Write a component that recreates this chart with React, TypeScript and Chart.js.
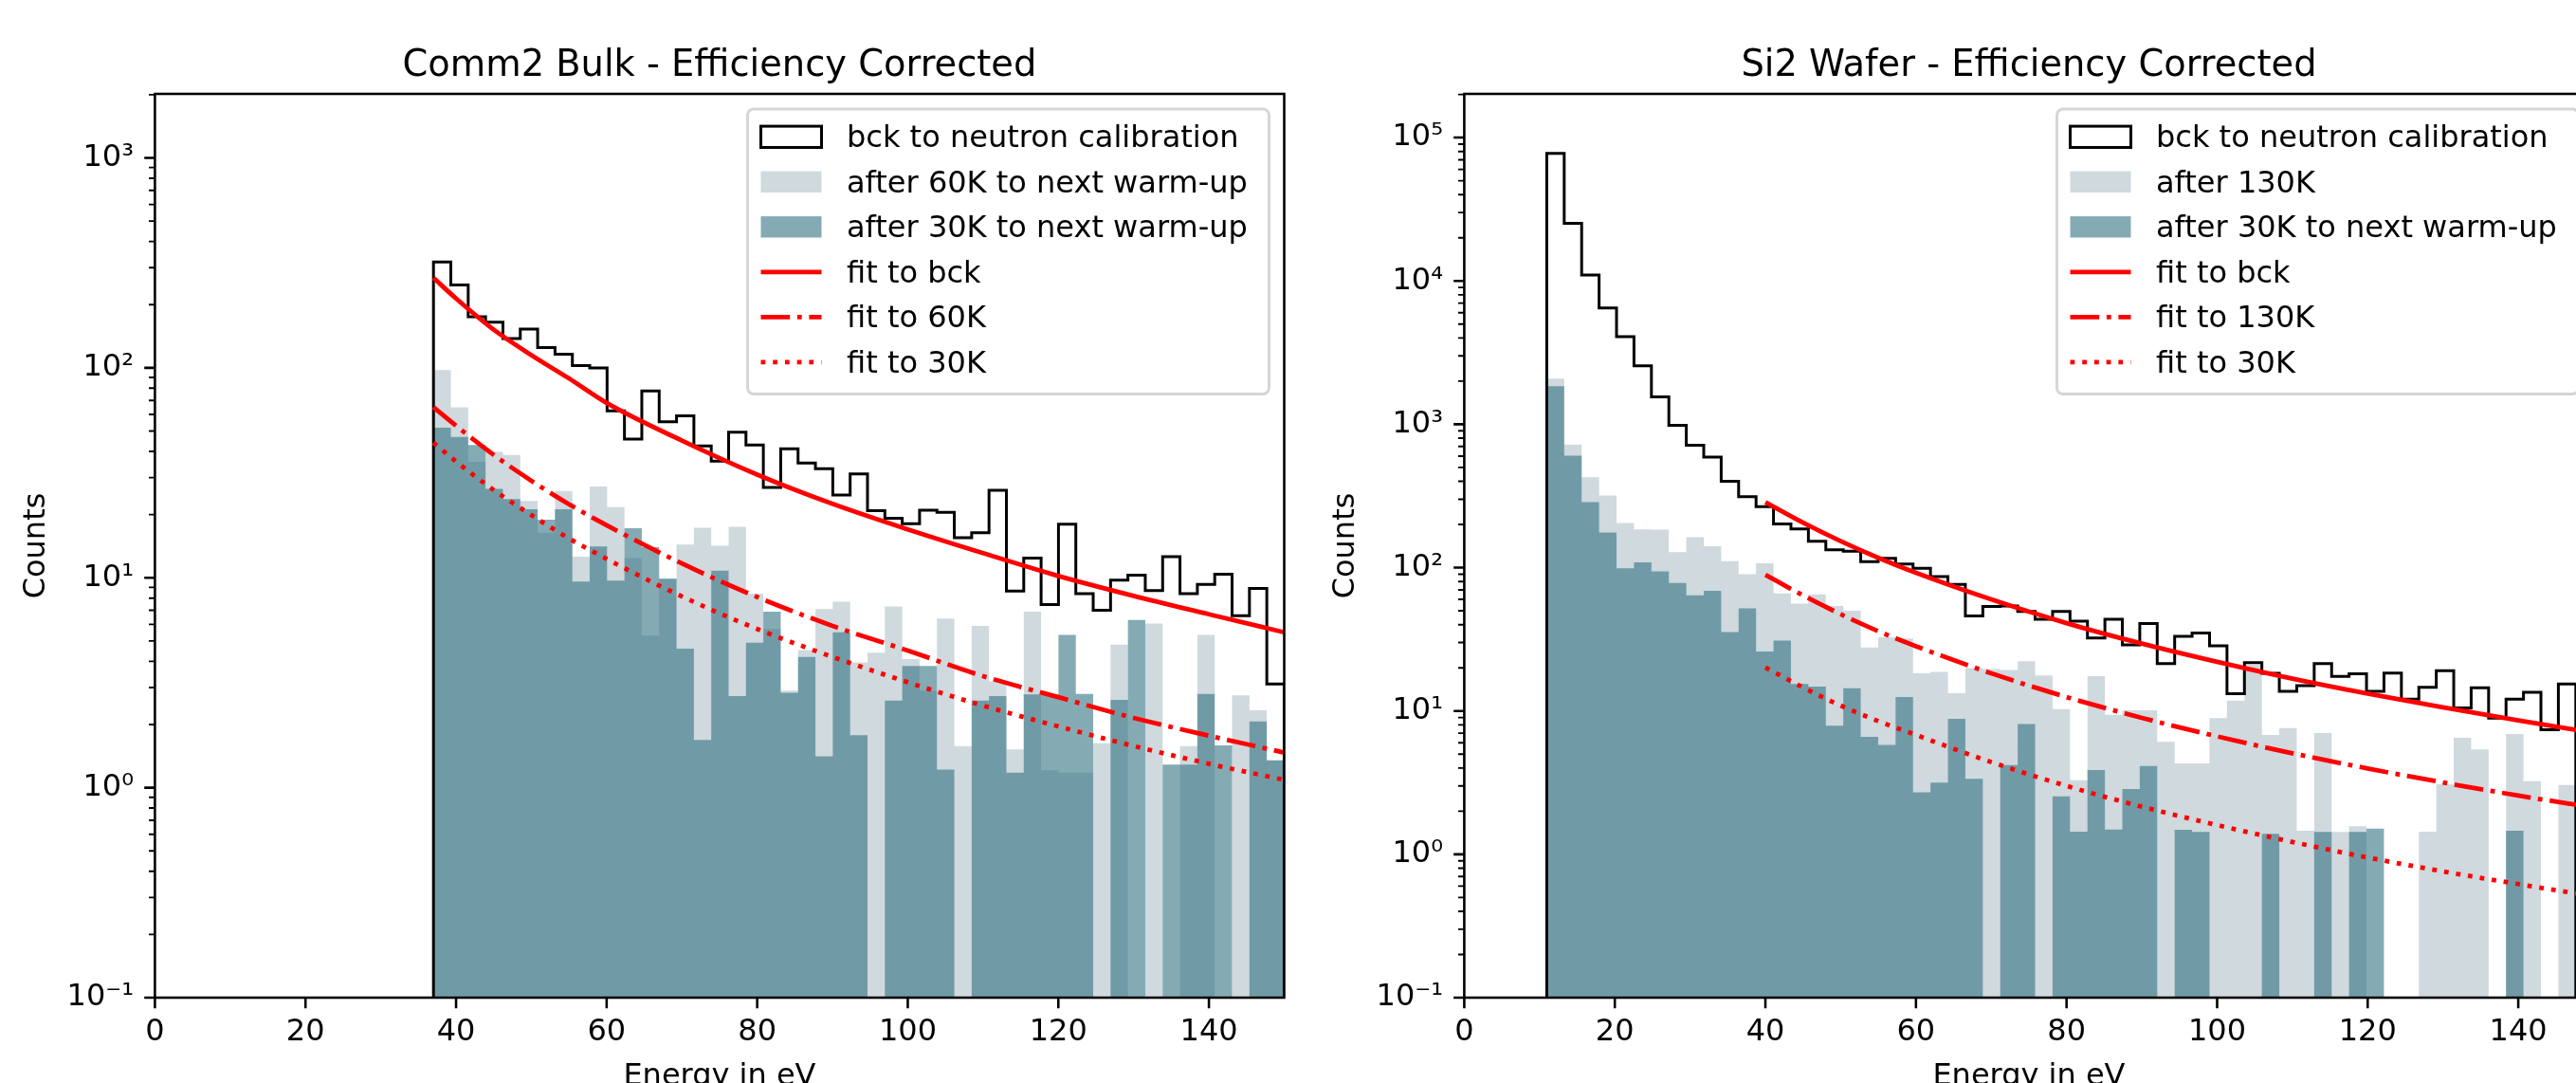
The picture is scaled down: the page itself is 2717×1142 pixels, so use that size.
import React, { useEffect, useRef } from 'react';
import { Chart, registerables } from 'chart.js';

Chart.register(...registerables);

const FONT = '"DejaVu Sans", "Liberation Sans", sans-serif';
const PT = 3.2; // pixels per point

// ---------------- shared axis data ----------------
const X_MIN = 0;
const X_MAX = 150;
const X_TICKS = [0, 20, 40, 60, 80, 100, 120, 140];
const X_TICK_LABELS = ['0', '20', '40', '60', '80', '100', '120', '140'];
const X_LABEL = 'Energy in eV';
const Y_LABEL = 'Counts';
const Y_MIN = 0.1;

// ---------------- left panel ----------------
const LEFT_TITLE = 'Comm2 Bulk - Efficiency Corrected';
const LEFT_Y_MAX = 2018;
const LEFT_Y_TICKS = [0.1, 1, 10, 100, 1000];
const LEFT_Y_TICK_LABELS = ['10⁻¹', '10⁰', '10¹', '10²', '10³'];
const LEFT_BIN_START = 37.0;
const LEFT_BIN_WIDTH = 2.306;
const LEFT_BCK = [319, 248, 175, 165, 138, 153, 125, 116, 102.6, 100, 62.4, 45.8, 77.6, 55.3, 59, 42.5, 35.9, 49.3, 42.9, 26.9, 41.2, 35.2, 33.1, 24.8, 31.2, 20.9, 19.2, 18.1, 21.0, 20.5, 15.5, 16.4, 26.1, 8.65, 12.4, 7.45, 18.0, 8.4, 7.0, 9.75, 10.3, 8.7, 12.6, 8.4, 9.3, 10.4, 6.6, 8.9, 3.12];
const LEFT_60K = [97.5, 64.9, 35.7, 39.8, 38.5, 23.2, 16.4, 25.9, 12.6, 27.2, 21.7, 12.4, 5.3, 9.9, 14.4, 17.3, 14.2, 17.5, 8.4, 5.7, 2.9, 4.53, 7.1, 7.7, 3.95, 4.4, 7.3, 4.1, 2.9, 6.4, 1.58, 5.9, 3.2, 1.52, 6.9, 1.21, 1.18, 1.18, 1.63, 4.8, 0, 6.05, 0, 1.58, 5.35, 0, 2.75, 2.34, 1.35];
const LEFT_30K = [51.9, 46.9, 42.9, 26.5, 23.7, 21.2, 18.9, 21.2, 9.6, 14.1, 9.7, 17.2, 14.0, 9.9, 4.6, 1.69, 10.8, 2.73, 4.9, 6.9, 2.83, 4.2, 1.41, 5.5, 1.78, 0, 2.6, 3.8, 3.8, 1.22, 0, 2.6, 2.73, 1.18, 2.78, 2.78, 5.35, 2.8, 0, 2.62, 6.3, 0, 1.29, 1.29, 2.8, 1.59, 0, 2.07, 1.35];
const LEFT_FIT_X = [37, 40, 45, 50, 55, 60, 70, 80, 90, 100, 110, 120, 130, 140, 150];
const LEFT_FIT_BCK = [268, 214, 152, 115, 89, 68, 45, 31, 22.5, 17, 13.1, 10.2, 8.2, 6.7, 5.5];
const LEFT_FIT_60K = [65, 53, 38.5, 29, 22.4, 17.8, 11.7, 8.1, 5.9, 4.5, 3.4, 2.7, 2.15, 1.77, 1.47];
const LEFT_FIT_30K = [44, 35.8, 26.2, 19.9, 15.4, 12.3, 8.15, 5.7, 4.2, 3.18, 2.46, 1.96, 1.58, 1.3, 1.09];
const LEFT_LEGEND = ['bck to neutron calibration', 'after 60K to next warm-up', 'after 30K to next warm-up', 'fit to bck', 'fit to 60K', 'fit to 30K'];

// ---------------- right panel ----------------
const RIGHT_TITLE = 'Si2 Wafer - Efficiency Corrected';
const RIGHT_Y_MAX = 201800;
const RIGHT_Y_TICKS = [0.1, 1, 10, 100, 1000, 10000, 100000];
const RIGHT_Y_TICK_LABELS = ['10⁻¹', '10⁰', '10¹', '10²', '10³', '10⁴', '10⁵'];
const RIGHT_BIN_START = 10.96;
const RIGHT_BIN_WIDTH = 2.3167;
const RIGHT_BCK = [77700, 25200, 11000, 6470, 4090, 2560, 1550, 982, 715, 590, 400, 313, 266, 202, 186, 153, 133, 130, 110, 116, 106, 99, 86.5, 76.5, 46, 53.5, 54, 49.5, 43.6, 49.5, 42.3, 32.3, 43.6, 28.9, 40.8, 21.4, 33.1, 35, 28.5, 13.2, 21.7, 18.3, 13.7, 15.0, 21.4, 17.4, 18.2, 13.7, 18.4, 12.1, 14.6, 19.1, 10.5, 14.5, 8.9, 12.1, 13.5, 7.4, 15.4];
const RIGHT_130K = [2080, 721, 427, 318, 205, 185, 184, 128, 163, 141, 111, 90, 107, 66, 56, 65, 54, 50, 27.7, 32.7, 32, 18.3, 18.7, 13.3, 19.9, 19.6, 19.3, 22.2, 17.7, 10.3, 3.28, 17.5, 9.4, 10.1, 10.1, 6.1, 4.3, 4.3, 8.9, 11.8, 21, 6.8, 7.6, 1.46, 7.0, 1.43, 1.57, 0, 0, 0, 1.44, 3.08, 6.5, 5.4, 0, 6.9, 3.24, 0, 3.05];
const RIGHT_30K = [1840, 605, 286, 176, 99, 109, 94, 78, 64, 69, 35.5, 52, 26, 31, 15.4, 14.8, 7.9, 14.4, 6.6, 5.8, 12.5, 2.71, 3.16, 8.8, 3.36, 0, 4.2, 8.1, 0, 2.54, 1.44, 3.87, 1.49, 2.85, 4.13, 0, 1.48, 1.43, 0, 0, 0, 1.39, 0, 0, 1.43, 0, 1.43, 1.51, 0, 0, 0, 0, 0, 0, 0, 1.46, 0, 0, 0];
const RIGHT_FIT_X = [40, 45, 50, 55, 60, 70, 80, 90, 100, 110, 120, 130, 140, 150];
const RIGHT_FIT_BCK = [286, 206, 153, 117, 92, 60, 41, 29.5, 22, 16.8, 13.2, 10.6, 8.6, 7.05];
const RIGHT_FIT_130K = [89, 64, 47.3, 36, 28.3, 18.3, 12.5, 8.95, 6.65, 5.07, 3.97, 3.17, 2.57, 2.12];
const RIGHT_FIT_30K = [20.1, 14.6, 10.9, 8.5, 6.8, 4.4, 3.0, 2.15, 1.6, 1.22, 0.95, 0.76, 0.62, 0.51];
const RIGHT_LEGEND = ['bck to neutron calibration', 'after 130K', 'after 30K to next warm-up', 'fit to bck', 'fit to 130K', 'fit to 30K'];

// ---------------- styles ----------------
const STEP_COLOR = '#000000';
const FILL_LIGHT = 'rgb(207,217,222)';
const FILL_DARK = 'rgba(43,110,126,0.58)';
const FIT_RED = '#ff0000';
const FIT_LW = 1.5 * PT;
const DASHDOT = [6.4 * 1.5 * PT, 1.6 * 1.5 * PT, 1 * 1.5 * PT, 1.6 * 1.5 * PT];
const DOTTED = [1 * 1.5 * PT, 1.65 * 1.5 * PT];

const CANVAS_W = 1400;
const CANVAS_H = 1142;
const AREA_LEFT = 163.4;
const AREA_RIGHT = 1354.5;
const AREA_TOP = 99;
const AREA_BOTTOM = 1052;
const X_AXIS_H = 60;

type Panel = {
  title: string;
  yMax: number;
  yTicks: number[];
  yTickLabels: string[];
  binStart: number;
  binWidth: number;
  bck: number[];
  histA: number[];
  histB: number[];
  fitX: number[];
  fitBck: number[];
  fitA: number[];
  fitB: number[];
  legend: string[];
};

const LEFT_PANEL: Panel = {
  title: LEFT_TITLE, yMax: LEFT_Y_MAX, yTicks: LEFT_Y_TICKS, yTickLabels: LEFT_Y_TICK_LABELS,
  binStart: LEFT_BIN_START, binWidth: LEFT_BIN_WIDTH, bck: LEFT_BCK, histA: LEFT_60K, histB: LEFT_30K,
  fitX: LEFT_FIT_X, fitBck: LEFT_FIT_BCK, fitA: LEFT_FIT_60K, fitB: LEFT_FIT_30K, legend: LEFT_LEGEND,
};

const RIGHT_PANEL: Panel = {
  title: RIGHT_TITLE, yMax: RIGHT_Y_MAX, yTicks: RIGHT_Y_TICKS, yTickLabels: RIGHT_Y_TICK_LABELS,
  binStart: RIGHT_BIN_START, binWidth: RIGHT_BIN_WIDTH, bck: RIGHT_BCK, histA: RIGHT_130K, histB: RIGHT_30K,
  fitX: RIGHT_FIT_X, fitBck: RIGHT_FIT_BCK, fitA: RIGHT_FIT_130K, fitB: RIGHT_FIT_30K, legend: RIGHT_LEGEND,
};

function stepPoints(start: number, width: number, vals: number[]) {
  const pts: { x: number; y: number }[] = [{ x: start, y: Y_MIN }];
  vals.forEach((v, i) => pts.push({ x: start + i * width, y: v > 0 ? v : Y_MIN }));
  const end = start + vals.length * width;
  const last = vals[vals.length - 1];
  pts.push({ x: end, y: last > 0 ? last : Y_MIN });
  pts.push({ x: end, y: Y_MIN });
  return pts;
}

function curvePoints(xs: number[], ys: number[]) {
  return xs.map((x, i) => ({ x, y: ys[i] }));
}

function roundRectPath(ctx: CanvasRenderingContext2D, x: number, y: number, w: number, h: number, r: number) {
  ctx.beginPath();
  ctx.moveTo(x + r, y);
  ctx.lineTo(x + w - r, y);
  ctx.arcTo(x + w, y, x + w, y + r, r);
  ctx.lineTo(x + w, y + h - r);
  ctx.arcTo(x + w, y + h, x + w - r, y + h, r);
  ctx.lineTo(x + r, y + h);
  ctx.arcTo(x, y + h, x, y + h - r, r);
  ctx.lineTo(x, y + r);
  ctx.arcTo(x, y, x + r, y, r);
  ctx.closePath();
}

function makeDecor(p: Panel) {
  return {
    id: 'mplDecor',
    afterDatasetsDraw(chart: any) {
      const { ctx, chartArea: a, scales } = chart;
      const xs = scales.x;
      const ys = scales.y;
      ctx.save();
      ctx.strokeStyle = '#000';
      ctx.lineCap = 'butt';
      // minor y ticks
      ctx.lineWidth = 0.6 * PT;
      ctx.beginPath();
      const e0 = Math.floor(Math.log10(ys.min));
      const e1 = Math.ceil(Math.log10(ys.max));
      for (let e = e0; e <= e1; e++) {
        for (let m = 2; m <= 9; m++) {
          const v = m * Math.pow(10, e);
          if (v > ys.min && v < ys.max) {
            const y = ys.getPixelForValue(v);
            ctx.moveTo(a.left, y);
            ctx.lineTo(a.left - 2 * PT, y);
          }
        }
      }
      ctx.stroke();
      // major ticks
      ctx.lineWidth = 0.8 * PT;
      ctx.beginPath();
      X_TICKS.forEach((v) => {
        const x = xs.getPixelForValue(v);
        ctx.moveTo(x, a.bottom);
        ctx.lineTo(x, a.bottom + 3.5 * PT);
      });
      p.yTicks.forEach((v) => {
        const y = ys.getPixelForValue(v);
        ctx.moveTo(a.left, y);
        ctx.lineTo(a.left - 3.5 * PT, y);
      });
      ctx.stroke();
      // spines
      ctx.lineJoin = 'miter';
      ctx.strokeRect(a.left, a.top, a.right - a.left, a.bottom - a.top);
      ctx.restore();
    },
    afterDraw(chart: any) {
      const { ctx, chartArea: a } = chart;
      const fs = 10 * PT;
      ctx.save();
      // title
      ctx.fillStyle = '#000';
      ctx.font = `${12 * PT}px ${FONT}`;
      ctx.textAlign = 'center';
      ctx.textBaseline = 'alphabetic';
      ctx.fillText(p.title, (a.left + a.right) / 2, a.top - 6 * PT);
      // x label
      ctx.font = `${fs}px ${FONT}`;
      ctx.fillText(X_LABEL, (a.left + a.right) / 2, a.bottom + 92);
      // y label
      ctx.save();
      ctx.translate(47, (a.top + a.bottom) / 2);
      ctx.rotate(-Math.PI / 2);
      ctx.fillText(Y_LABEL, 0, 0);
      ctx.restore();

      // legend
      const boxW = 550;
      const boxRight = a.right - 0.5 * fs;
      const boxLeft = boxRight - boxW;
      const boxTop = a.top + 0.5 * fs;
      const row0 = boxTop + 29.3;
      const rowStep = 47.5;
      const boxH = 29.3 + 5 * rowStep + 33.7;
      roundRectPath(ctx, boxLeft, boxTop, boxW, boxH, 0.2 * fs);
      ctx.fillStyle = 'rgba(255,255,255,0.8)';
      ctx.fill();
      ctx.strokeStyle = 'rgb(214,214,214)';
      ctx.lineWidth = 3;
      ctx.stroke();

      const hx = boxLeft + 14;
      const hw = 2 * fs;
      const hh = 0.7 * fs;
      const tx = boxLeft + 104.5;
      p.legend.forEach((label, i) => {
        const cy = row0 + i * rowStep;
        ctx.save();
        if (i === 0) {
          ctx.strokeStyle = STEP_COLOR;
          ctx.lineWidth = 3;
          ctx.strokeRect(hx, cy - hh / 2, hw, hh);
        } else if (i === 1) {
          ctx.fillStyle = FILL_LIGHT;
          ctx.fillRect(hx, cy - hh / 2, hw, hh);
        } else if (i === 2) {
          ctx.fillStyle = FILL_DARK;
          ctx.fillRect(hx, cy - hh / 2, hw, hh);
        } else {
          ctx.strokeStyle = FIT_RED;
          ctx.lineWidth = FIT_LW;
          ctx.lineCap = 'butt';
          ctx.setLineDash(i === 3 ? [] : i === 4 ? DASHDOT : DOTTED);
          ctx.beginPath();
          ctx.moveTo(hx, cy);
          ctx.lineTo(hx + hw, cy);
          ctx.stroke();
        }
        ctx.restore();
        ctx.fillStyle = '#000';
        ctx.font = `${fs}px ${FONT}`;
        ctx.textAlign = 'left';
        ctx.textBaseline = 'alphabetic';
        ctx.fillText(label, tx, cy + 10.7);
      });
      ctx.restore();
    },
  };
}

function buildConfig(p: Panel): any {
  const datasets: any[] = [
    {
      label: p.legend[1],
      data: stepPoints(p.binStart, p.binWidth, p.histA),
      stepped: 'before',
      fill: 'start',
      backgroundColor: FILL_LIGHT,
      borderColor: 'rgba(0,0,0,0)',
      borderWidth: 0,
      pointRadius: 0,
      order: 4,
    },
    {
      label: p.legend[2],
      data: stepPoints(p.binStart, p.binWidth, p.histB),
      stepped: 'before',
      fill: 'start',
      backgroundColor: FILL_DARK,
      borderColor: 'rgba(0,0,0,0)',
      borderWidth: 0,
      pointRadius: 0,
      order: 3,
    },
    {
      label: p.legend[0],
      data: stepPoints(p.binStart, p.binWidth, p.bck),
      stepped: 'before',
      fill: false,
      borderColor: STEP_COLOR,
      borderWidth: 3,
      borderJoinStyle: 'miter',
      pointRadius: 0,
      order: 2,
    },
    {
      label: p.legend[3],
      data: curvePoints(p.fitX, p.fitBck),
      fill: false,
      borderColor: FIT_RED,
      borderWidth: FIT_LW,
      borderCapStyle: 'butt',
      cubicInterpolationMode: 'monotone',
      pointRadius: 0,
      order: 1,
    },
    {
      label: p.legend[4],
      data: curvePoints(p.fitX, p.fitA),
      fill: false,
      borderColor: FIT_RED,
      borderWidth: FIT_LW,
      borderDash: DASHDOT,
      borderCapStyle: 'butt',
      cubicInterpolationMode: 'monotone',
      pointRadius: 0,
      order: 1,
    },
    {
      label: p.legend[5],
      data: curvePoints(p.fitX, p.fitB),
      fill: false,
      borderColor: FIT_RED,
      borderWidth: FIT_LW,
      borderDash: DOTTED,
      borderCapStyle: 'butt',
      cubicInterpolationMode: 'monotone',
      pointRadius: 0,
      order: 1,
    },
  ];

  const tickFont = { family: FONT, size: 10 * PT };

  return {
    type: 'line',
    data: { datasets },
    options: {
      responsive: false,
      animation: false,
      devicePixelRatio: 1,
      events: [],
      layout: {
        padding: {
          left: 0,
          right: CANVAS_W - AREA_RIGHT,
          top: AREA_TOP,
          bottom: CANVAS_H - AREA_BOTTOM - X_AXIS_H,
        },
      },
      plugins: {
        legend: { display: false },
        tooltip: { enabled: false },
        title: { display: false },
      },
      scales: {
        x: {
          type: 'linear',
          min: X_MIN,
          max: X_MAX,
          bounds: 'data',
          grid: { display: false, drawTicks: false },
          border: { display: false },
          afterBuildTicks: (s: any) => {
            s.ticks = X_TICKS.map((v) => ({ value: v }));
          },
          afterFit: (s: any) => {
            s.height = X_AXIS_H;
          },
          ticks: {
            autoSkip: false,
            maxRotation: 0,
            minRotation: 0,
            padding: 17,
            color: '#000',
            font: tickFont,
            callback: (_v: any, i: number) => X_TICK_LABELS[i],
          },
        },
        y: {
          type: 'logarithmic',
          min: Y_MIN,
          max: p.yMax,
          bounds: 'data',
          grid: { display: false, drawTicks: false },
          border: { display: false },
          afterBuildTicks: (s: any) => {
            s.ticks = p.yTicks.map((v) => ({ value: v }));
          },
          afterFit: (s: any) => {
            s.width = AREA_LEFT;
          },
          ticks: {
            autoSkip: false,
            padding: 7 * PT,
            color: '#000',
            font: tickFont,
            callback: (_v: any, i: number) => p.yTickLabels[i],
          },
        },
      },
    },
    plugins: [makeDecor(p)],
  };
}

function PanelChart({ panel, left }: { panel: Panel; left: number }) {
  const ref = useRef<HTMLCanvasElement | null>(null);
  useEffect(() => {
    if (!ref.current) return;
    const chart = new Chart(ref.current, buildConfig(panel));
    return () => chart.destroy();
  }, [panel]);
  return (
    <canvas
      ref={ref}
      width={CANVAS_W}
      height={CANVAS_H}
      style={{ position: 'absolute', left, top: 0, width: CANVAS_W, height: CANVAS_H }}
    />
  );
}

export default function App() {
  return (
    <div
      style={{
        position: 'fixed',
        left: 0,
        top: 0,
        width: '100vw',
        height: '100vh',
        overflow: 'hidden',
        background: '#ffffff',
      }}
    >
      <PanelChart panel={LEFT_PANEL} left={0} />
      <PanelChart panel={RIGHT_PANEL} left={1381} />
    </div>
  );
}
